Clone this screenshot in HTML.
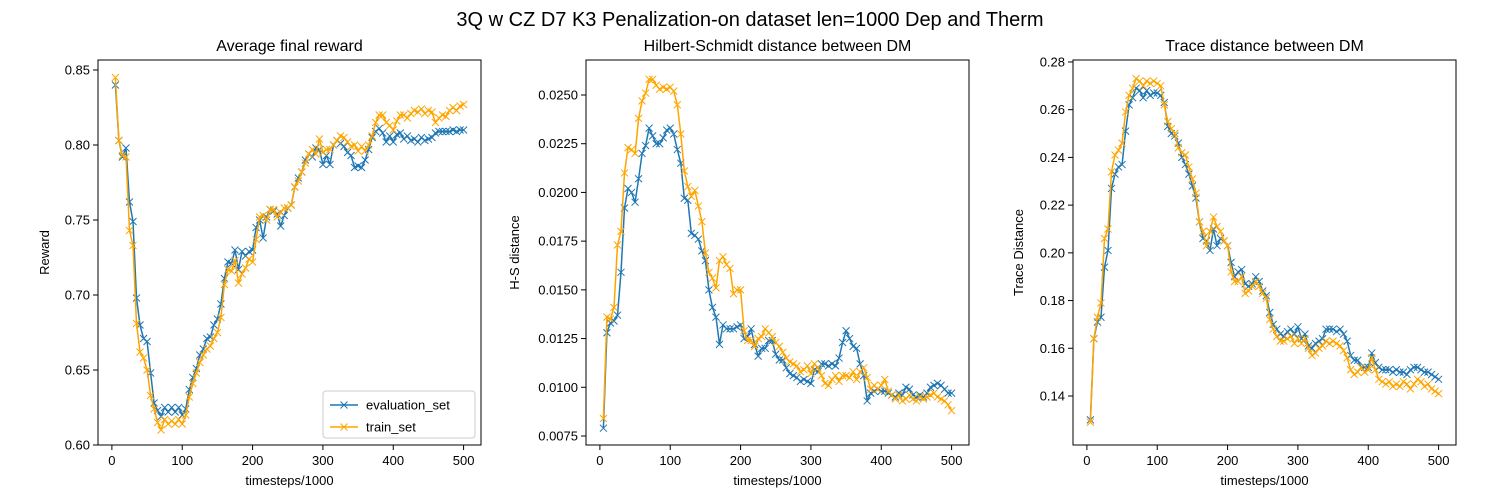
<!DOCTYPE html>
<html><head><meta charset="utf-8"><style>
body{margin:0;background:#fff;}
svg{display:block;font-family:"Liberation Sans","DejaVu Sans",sans-serif;}
</style></head><body>
<svg id="fig" width="1500" height="500">
<text x="750" y="26" text-anchor="middle" font-size="20">3Q w CZ D7 K3 Penalization-on dataset len=1000 Dep and Therm</text>
</svg>
<script>
const rewardEval=[0.840,0.803,0.792,0.798,0.762,0.749,0.698,0.680,0.671,0.669,0.648,0.628,0.623,0.619,0.625,0.622,0.625,0.622,0.625,0.620,0.624,0.637,0.645,0.651,0.660,0.664,0.671,0.672,0.680,0.684,0.694,0.711,0.722,0.721,0.730,0.717,0.729,0.726,0.729,0.730,0.745,0.750,0.738,0.752,0.757,0.756,0.754,0.746,0.753,0.758,0.760,0.772,0.778,0.782,0.790,0.794,0.792,0.798,0.797,0.787,0.793,0.787,0.800,0.803,0.801,0.799,0.795,0.793,0.785,0.786,0.785,0.790,0.797,0.805,0.809,0.811,0.808,0.802,0.806,0.802,0.807,0.808,0.804,0.806,0.803,0.804,0.802,0.805,0.803,0.804,0.805,0.808,0.809,0.809,0.809,0.809,0.810,0.809,0.810,0.810];
const rewardTrain=[0.845,0.803,0.793,0.792,0.743,0.733,0.681,0.662,0.658,0.650,0.633,0.624,0.615,0.610,0.617,0.614,0.616,0.614,0.617,0.614,0.620,0.632,0.641,0.648,0.655,0.660,0.664,0.666,0.671,0.675,0.685,0.707,0.717,0.716,0.723,0.708,0.714,0.718,0.724,0.722,0.737,0.752,0.753,0.750,0.757,0.757,0.752,0.755,0.758,0.758,0.760,0.772,0.776,0.782,0.788,0.794,0.797,0.794,0.804,0.795,0.797,0.797,0.800,0.803,0.806,0.805,0.802,0.799,0.800,0.796,0.799,0.796,0.800,0.806,0.815,0.820,0.820,0.815,0.813,0.810,0.816,0.820,0.820,0.818,0.821,0.823,0.822,0.824,0.821,0.823,0.822,0.815,0.818,0.820,0.819,0.823,0.825,0.823,0.826,0.827];
const hsEval=[0.0079,0.0128,0.0133,0.0134,0.0137,0.0159,0.0192,0.0202,0.0200,0.0195,0.0207,0.0220,0.0224,0.0233,0.0229,0.0225,0.0225,0.0228,0.0232,0.0233,0.0230,0.0222,0.0215,0.0197,0.0196,0.0179,0.0178,0.0176,0.0170,0.0165,0.0150,0.0141,0.0136,0.0122,0.0132,0.0130,0.0130,0.0130,0.0131,0.0132,0.0125,0.0126,0.0130,0.0122,0.0116,0.0120,0.0120,0.0124,0.0124,0.0117,0.0114,0.0114,0.0110,0.0107,0.0106,0.0105,0.0103,0.0104,0.0103,0.0102,0.0109,0.0108,0.0112,0.0112,0.0111,0.0112,0.0111,0.0115,0.0123,0.0129,0.0125,0.0121,0.0120,0.0112,0.0106,0.0093,0.0097,0.0098,0.0099,0.0098,0.0098,0.0097,0.0096,0.0095,0.0097,0.0096,0.0100,0.0099,0.0096,0.0095,0.0096,0.0095,0.0097,0.0100,0.0101,0.0102,0.0101,0.0099,0.0097,0.0097];
const hsTrain=[0.0084,0.0136,0.0135,0.0141,0.0173,0.0180,0.0210,0.0223,0.0222,0.0220,0.0238,0.0247,0.0251,0.0258,0.0258,0.0255,0.0253,0.0254,0.0253,0.0254,0.0252,0.0245,0.0230,0.0211,0.0203,0.0198,0.0201,0.0193,0.0185,0.0169,0.0159,0.0156,0.0151,0.0165,0.0167,0.0163,0.0161,0.0148,0.0150,0.0150,0.0129,0.0124,0.0124,0.0121,0.0125,0.0126,0.0130,0.0128,0.0126,0.0123,0.0121,0.0118,0.0115,0.0113,0.0112,0.0111,0.0108,0.0109,0.0111,0.0107,0.0112,0.0110,0.0106,0.0102,0.0101,0.0104,0.0106,0.0103,0.0106,0.0106,0.0105,0.0108,0.0104,0.0108,0.0110,0.0105,0.0099,0.0101,0.0099,0.0101,0.0104,0.0098,0.0096,0.0094,0.0096,0.0093,0.0094,0.0096,0.0094,0.0093,0.0095,0.0094,0.0095,0.0096,0.0097,0.0095,0.0094,0.0093,0.0091,0.0088];
const trEval=[0.130,0.164,0.171,0.173,0.194,0.201,0.227,0.233,0.236,0.237,0.251,0.262,0.265,0.269,0.268,0.265,0.268,0.266,0.267,0.267,0.266,0.263,0.253,0.250,0.249,0.246,0.240,0.237,0.233,0.228,0.223,0.213,0.206,0.205,0.201,0.210,0.203,0.206,0.205,0.203,0.196,0.190,0.192,0.193,0.187,0.186,0.187,0.190,0.188,0.184,0.182,0.175,0.170,0.168,0.166,0.165,0.167,0.168,0.166,0.169,0.164,0.166,0.161,0.160,0.162,0.163,0.164,0.168,0.168,0.168,0.167,0.168,0.166,0.163,0.157,0.155,0.155,0.152,0.152,0.152,0.158,0.154,0.152,0.151,0.151,0.151,0.150,0.151,0.150,0.150,0.149,0.151,0.152,0.152,0.151,0.150,0.150,0.149,0.148,0.147];
const trTrain=[0.129,0.164,0.173,0.179,0.206,0.210,0.234,0.241,0.243,0.246,0.259,0.266,0.269,0.273,0.272,0.270,0.272,0.271,0.272,0.271,0.270,0.262,0.255,0.252,0.250,0.244,0.242,0.241,0.236,0.231,0.225,0.213,0.209,0.203,0.209,0.215,0.211,0.209,0.205,0.203,0.192,0.188,0.188,0.190,0.183,0.184,0.186,0.188,0.186,0.183,0.181,0.172,0.168,0.165,0.163,0.163,0.164,0.165,0.162,0.164,0.162,0.164,0.160,0.157,0.158,0.160,0.161,0.163,0.162,0.163,0.162,0.161,0.159,0.156,0.151,0.149,0.150,0.152,0.150,0.151,0.156,0.151,0.147,0.146,0.145,0.146,0.144,0.145,0.144,0.146,0.145,0.143,0.145,0.147,0.146,0.144,0.145,0.143,0.142,0.141];
const timesteps=rewardEval.map((_,i)=>5*(i+1));
const xTicks=[0,100,200,300,400,500];
const rewardTicks=["0.60","0.65","0.70","0.75","0.80","0.85"];
const hsTicks=["0.0075","0.0100","0.0125","0.0150","0.0175","0.0200","0.0225","0.0250"];
const trTicks=["0.14","0.16","0.18","0.20","0.22","0.24","0.26","0.28"];

const NS="http://www.w3.org/2000/svg";
const svg=document.getElementById('fig');
function mk(tag,attrs,parent){const e=document.createElementNS(NS,tag);for(const k in attrs)e.setAttribute(k,attrs[k]);(parent||svg).appendChild(e);return e;}

function panel(p){
  const g=mk('g',{});
  
  
  const L=p.left,R=L+383,T=60,B=445;
  const xs=v=>L+(v+19.75)*383/544.5;
  const ys=v=>p.y0-(v-p.v0)*p.k;
  const t=mk('text',{x:(L+R)/2,y:51,'text-anchor':'middle','font-size':16},g);t.textContent=p.title;
  
  xTicks.forEach(v=>{const x=xs(v);mk('line',{x1:x,x2:x,y1:B,y2:B+5,stroke:'#000','stroke-width':1},g);
    const tx=mk('text',{x:x,y:B+20,'text-anchor':'middle','font-size':13},g);tx.textContent=v;
    });
  p.ticks.forEach(s=>{const y=ys(parseFloat(s));mk('line',{x1:L-5,x2:L,y1:y,y2:y,stroke:'#000','stroke-width':1},g);
    const ty=mk('text',{x:L-8,y:y+4.5,'text-anchor':'end','font-size':13},g);ty.textContent=s;
    });
  const xl=mk('text',{x:(L+R)/2,y:485,'text-anchor':'middle','font-size':13},g);xl.textContent='timesteps/1000';
  
  const yl=mk('text',{x:0,y:0,'text-anchor':'middle','font-size':13,transform:`translate(${p.ylx},${(T+B)/2}) rotate(-90)`},g);yl.textContent=p.ylabel;
  
  [[p.ev,'#1f77b4','evaluation-set-line'],[p.tr,'#ffa500','train-set-line']].forEach(([arr,c,nm])=>{
    const sg=mk('g',{},g);
    
    const pts=arr.map((v,i)=>xs(timesteps[i]).toFixed(1)+','+ys(v).toFixed(1)).join(' ');
    mk('polyline',{points:pts,fill:'none',stroke:c,'stroke-width':1.5,'stroke-linejoin':'round'},sg);
    let d='';arr.forEach((v,i)=>{const x=xs(timesteps[i]),y=ys(v),r=3.5;d+=`M${x-r},${y-r}L${x+r},${y+r}M${x-r},${y+r}L${x+r},${y-r}`;});
    mk('path',{d:d,stroke:c,'stroke-width':1,fill:'none'},sg);
  });
  const fr=mk('rect',{x:L,y:T,width:383,height:B-T,fill:'none',stroke:'#000','stroke-width':1},g);
  
  return g;
}
panel({name:'reward-panel',left:98,title:'Average final reward',ylabel:'Reward',ylx:49,ticks:rewardTicks,v0:0.60,y0:445,k:1500,ev:rewardEval,tr:rewardTrain});
panel({name:'hs-distance-panel',left:586,title:'Hilbert-Schmidt distance between DM',ylabel:'H-S distance',ylx:519,ticks:hsTicks,v0:0.0075,y0:436,k:19486,ev:hsEval,tr:hsTrain});
panel({name:'trace-distance-panel',left:1073,title:'Trace distance between DM',ylabel:'Trace Distance',ylx:1023,ticks:trTicks,v0:0.14,y0:396,k:2386,ev:trEval,tr:trTrain});

const lg=mk('g',{});


mk('rect',{x:323,y:391,width:152,height:47,rx:3,fill:'#fff',stroke:'#ccc'},lg);
[['evaluation_set','#1f77b4',405],['train_set','#ffa500',427]].forEach(([lab,c,y])=>{
  const e=mk('g',{},lg);
  
  
  mk('line',{x1:330,x2:358,y1:y,y2:y,stroke:c,'stroke-width':1.5},e);
  mk('path',{d:`M340.5,${y-3.5}L347.5,${y+3.5}M340.5,${y+3.5}L347.5,${y-3.5}`,stroke:c,'stroke-width':1},e);
  const t=mk('text',{x:366,y:y+4.5,'font-size':13},e);t.textContent=lab;
});
</script>
</body></html>
